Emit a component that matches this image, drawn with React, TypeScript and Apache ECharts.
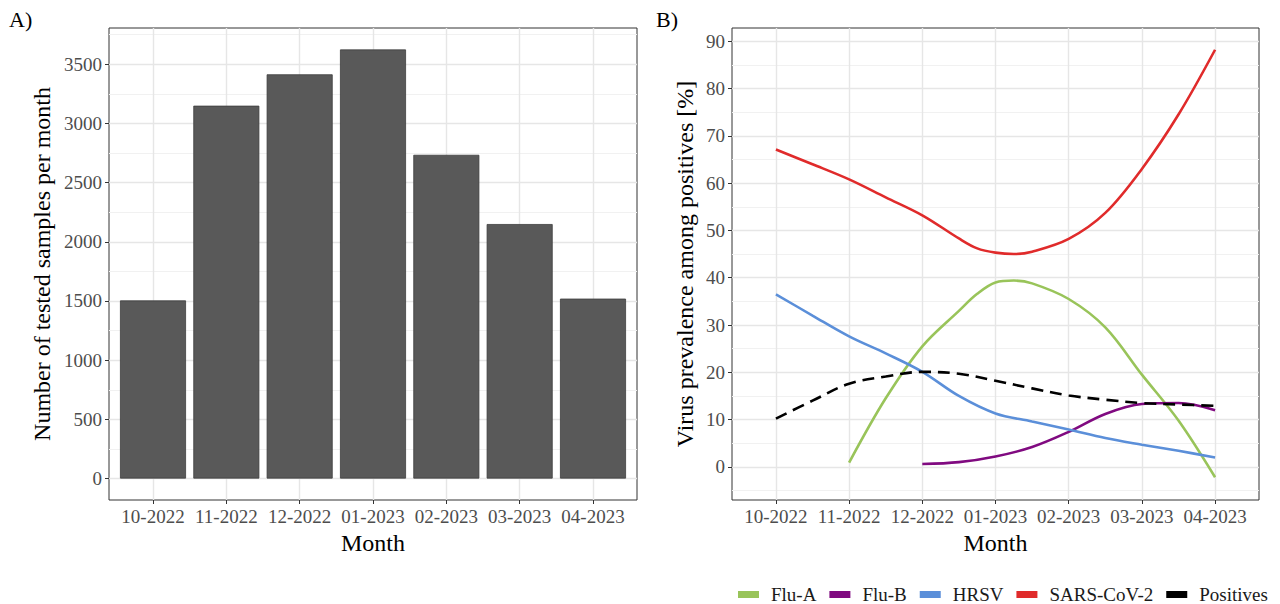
import React, { useEffect, useRef } from "react";
import * as echarts from "echarts";

const months = ["10-2022", "11-2022", "12-2022", "01-2023", "02-2023", "03-2023", "04-2023"];
const monthIdx = [0, 1, 2, 3, 4, 5, 6];
const testedSamples = [1505, 3150, 3415, 3625, 2735, 2150, 1520];

const barTicks = [0, 500, 1000, 1500, 2000, 2500, 3000, 3500];
const barMinor = [250, 750, 1250, 1750, 2250, 2750, 3250, 3750];
const prevTicks = [0, 10, 20, 30, 40, 50, 60, 70, 80, 90];
const prevMinor = [-5, 5, 15, 25, 35, 45, 55, 65, 75, 85];

// fractional month positions at which curve values were read (null = not read there)
const curveX = [0, 0.5, 1, 1.5, 2, 2.5, 2.75, 3, 3.25, 3.5, 4, 4.5, 5, 5.5, 6];
const fluA = [null, null, 0.9, 14.5, 25.5, 33.0, 36.6, 39.0, 39.4, 38.8, 35.5, 29.5, 19.5, 9.8, -2.2];
const fluB = [null, null, null, null, 0.6, 1.0, null, 2.2, null, 4.2, 7.4, 11.2, 13.3, 13.5, 12.0];
const hrsv = [36.5, 32.0, 27.6, 24.0, 20.1, 15.0, null, 11.3, null, 9.6, 7.9, 6.1, 4.7, 3.4, 2.0];
const sars = [67.1, 64.0, 60.8, 57.0, 53.2, 48.3, 46.2, 45.3, 45.0, 45.5, 48.2, 53.7, 63.0, 74.5, 88.2];
const positives = [10.2, 14.0, 17.6, 19.1, 20.1, 19.7, null, 18.2, null, 16.6, 15.1, 14.2, 13.5, 13.2, 12.9];

const FONT = "Liberation Serif";

function pairs(vals: (number | null)[]) {
  const out: number[][] = [];
  vals.forEach((v, i) => {
    if (v !== null) out.push([curveX[i], v]);
  });
  return out;
}

export default function App() {
  const ref = useRef<HTMLDivElement>(null);
  useEffect(() => {
    if (!ref.current) return;
    const chart = echarts.init(ref.current, null, { renderer: "svg" });
    const tickLabel = { color: "#4d4d4d", fontSize: 19, fontFamily: FONT };
    const nameStyle = { color: "#000", fontSize: 24, fontFamily: FONT };
    const major = { show: true, lineStyle: { color: "#e6e6e6", width: 1.4 } };
    const minor = { show: true, lineStyle: { color: "#f1f1f1", width: 1 } };
    const tick = (vals: number[]) => ({
      show: true,
      customValues: vals,
      length: 4,
      lineStyle: { color: "#333", width: 1 },
    });
    const xAxisFor = (g: number) => ({
      gridIndex: g,
      type: "value",
      min: -0.6,
      max: 6.6,
      axisLine: { show: false, onZero: false },
      axisTick: tick(monthIdx),
      axisLabel: {
        ...tickLabel,
        customValues: monthIdx,
        margin: 7,
        formatter: (v: number) => months[Math.round(v)],
      },
      splitLine: major,
      name: "Month",
      nameLocation: "middle",
      nameGap: 27,
      nameTextStyle: nameStyle,
    });
    const lineSeries = (name: string, vals: (number | null)[], color: string, dashed = false) => ({
      name,
      type: "line",
      xAxisIndex: 1,
      yAxisIndex: 2,
      data: pairs(vals),
      smooth: 0.35,
      symbol: "none",
      itemStyle: { color },
      lineStyle: { color, width: 2.6, type: dashed ? [12, 7] : "solid" },
      z: 3,
    });
    const plain = (v: number) => String(v);

    chart.setOption({
      animation: false,
      textStyle: { fontFamily: FONT },
      grid: [
        { left: 109, top: 28, width: 528, height: 472, show: true, borderColor: "#333", borderWidth: 1 },
        { left: 732, top: 28, width: 527, height: 472, show: true, borderColor: "#333", borderWidth: 1 },
      ],
      xAxis: [xAxisFor(0), xAxisFor(1)],
      yAxis: [
        {
          gridIndex: 0,
          type: "value",
          min: -181.25,
          max: 3806.25,
          axisLine: { show: false, onZero: false },
          axisTick: tick(barTicks),
          axisLabel: { ...tickLabel, customValues: barTicks, margin: 7, formatter: plain },
          splitLine: major,
          name: "Number of tested samples per month",
          nameLocation: "middle",
          nameGap: 55,
          nameTextStyle: nameStyle,
        },
        {
          gridIndex: 0,
          type: "value",
          min: -181.25,
          max: 3806.25,
          axisLine: { show: false, onZero: false },
          axisTick: { show: false, customValues: barMinor },
          axisLabel: { show: false, customValues: barMinor },
          splitLine: minor,
        },
        {
          gridIndex: 1,
          type: "value",
          min: -7,
          max: 92.8,
          axisLine: { show: false, onZero: false },
          axisTick: tick(prevTicks),
          axisLabel: { ...tickLabel, customValues: prevTicks, margin: 7, formatter: plain },
          splitLine: major,
          name: "Virus prevalence among positives [%]",
          nameLocation: "middle",
          nameGap: 35,
          nameTextStyle: nameStyle,
        },
        {
          gridIndex: 1,
          type: "value",
          min: -7,
          max: 92.8,
          axisLine: { show: false, onZero: false },
          axisTick: { show: false, customValues: prevMinor },
          axisLabel: { show: false, customValues: prevMinor },
          splitLine: minor,
        },
      ],
      legend: {
        data: ["Flu-A", "Flu-B", "HRSV", "SARS-CoV-2", "Positives"],
        left: 733,
        top: 580,
        icon: "rect",
        itemWidth: 21,
        itemHeight: 7,
        itemGap: 13,
        textStyle: { color: "#1a1a1a", fontSize: 19, fontFamily: FONT, padding: [0, 0, 0, 7] },
      },
      graphic: [
        { type: "text", left: 9, top: 8, style: { text: "A)", fontSize: 22, fontFamily: FONT, fill: "#000" } },
        { type: "text", left: 656, top: 8, style: { text: "B)", fontSize: 22, fontFamily: FONT, fill: "#000" } },
      ],
      series: [
        {
          name: "Tested",
          type: "bar",
          xAxisIndex: 0,
          yAxisIndex: 0,
          data: testedSamples.map((v, i) => [monthIdx[i], v]),
          barWidth: 66,
          itemStyle: { color: "#595959", borderColor: "#3d3d3d", borderWidth: 0.8 },
          z: 3,
        },
        lineSeries("Flu-A", fluA, "#99c45a"),
        lineSeries("Flu-B", fluB, "#800a80"),
        lineSeries("HRSV", hrsv, "#5b8fd9"),
        lineSeries("SARS-CoV-2", sars, "#e02b2b"),
        lineSeries("Positives", positives, "#000000", true),
      ],
    });
    return () => chart.dispose();
  }, []);
  return (
    <div
      ref={ref}
      style={{ position: "fixed", left: 0, top: 0, width: 1280, height: 604, background: "#fff" }}
    />
  );
}
